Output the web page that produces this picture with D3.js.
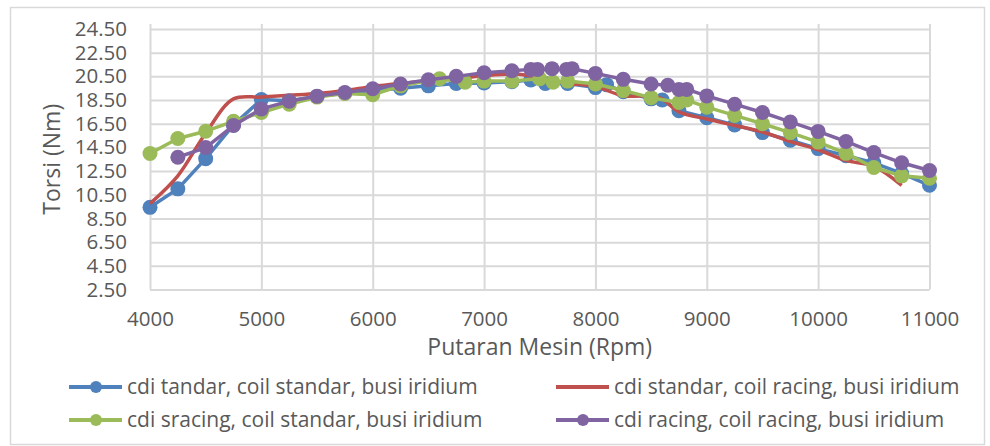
<!DOCTYPE html>
<html>
  <head>
    <meta charset="utf-8">
    <script src="https://cdn.jsdelivr.net/npm/d3@7"></script>
    <style>
      body { margin: 0; background: #fff; }
      text { font-family: "Open Sans", sans-serif; fill: #595959; }
      .grid line { stroke: #d9d9d9; stroke-width: 2; }
      .grid path { display: none; }
    </style>
  </head>
<body>
  <script type="text/javascript">
      // data
      var xTicks = [4000, 5000, 6000, 7000, 8000, 9000, 10000, 11000];
      var yTicks = [2.5, 4.5, 6.5, 8.5, 10.5, 12.5, 14.5, 16.5, 18.5, 20.5, 22.5, 24.5];

      var blueRpm = [4000,4250,4500,4750,5000,5250,5500,5750,6000,6250,6500,6750,7000,7250,7420,7550,7750,8000,8100,8250,8500,8600,8750,9000,9250,9500,9750,10000,10250,10500,10750,11000];
      var blueTq  = [9.44,11.0,13.55,16.4,18.55,18.45,18.8,19.1,19.3,19.5,19.7,19.9,19.95,20.05,20.2,19.9,19.9,19.55,19.8,19.2,18.6,18.5,17.6,17.0,16.4,15.75,15.1,14.4,13.8,13.2,12.3,11.3];

      var redRpm = [4000,4250,4500,4750,5000,5250,5500,5750,6000,6250,6500,6750,7000,7250,7380,7620,7750,8000,8250,8500,8600,8750,9000,9250,9500,9750,10000,10250,10500,10750];
      var redTq  = [9.75,12.1,15.7,18.6,18.75,18.9,19.05,19.3,19.65,19.9,20.1,20.3,20.55,20.7,20.6,20.1,19.9,19.65,18.85,18.85,18.6,17.5,16.9,16.35,15.8,15.0,14.3,13.4,12.9,11.3];

      var greenRpm = [4000,4250,4500,4750,5000,5250,5500,5750,6000,6250,6600,6830,7000,7250,7500,7620,7750,8000,8250,8500,8750,8820,9000,9250,9500,9750,10000,10250,10500,10750,11000];
      var greenTq  = [13.98,15.25,15.87,16.7,17.45,18.15,18.75,19.05,18.95,19.7,20.3,20.0,20.1,20.1,20.3,20.0,20.1,19.85,19.3,18.7,18.3,18.5,17.9,17.2,16.5,15.75,14.95,14.0,12.8,12.1,11.9];

      var purpleRpm = [4250,4500,4750,5000,5250,5500,5750,6000,6250,6500,6750,7000,7250,7420,7480,7610,7740,7790,8000,8250,8500,8650,8750,8820,9000,9250,9500,9750,10000,10250,10500,10750,11000];
      var purpleTq  = [13.67,14.49,16.35,17.75,18.4,18.83,19.14,19.45,19.85,20.22,20.5,20.8,20.97,21.09,21.09,21.15,21.09,21.15,20.75,20.25,19.85,19.75,19.4,19.4,18.85,18.15,17.45,16.65,15.85,15.0,14.06,13.2,12.55];

      var seriesNames = ["cdi tandar, coil standar, busi iridium",
                         "cdi standar, coil racing, busi iridium",
                         "cdi sracing, coil standar, busi iridium",
                         "cdi racing, coil racing, busi iridium"];

      var series = [
        {name: seriesNames[0], rpm: blueRpm, tq: blueTq, color: "#4f81bd", marker: true, smooth: false},
        {name: seriesNames[1], rpm: redRpm, tq: redTq, color: "#c0504d", marker: false, smooth: true},
        {name: seriesNames[2], rpm: greenRpm, tq: greenTq, color: "#9bbb59", marker: true, smooth: false},
        {name: seriesNames[3], rpm: purpleRpm, tq: purpleTq, color: "#8064a2", marker: true, smooth: false}
      ];

      var width = 990, height = 446;
      var plotLeft = 150, plotRight = 929.5, plotTop = 29, plotBottom = 289.5;

      var svg = d3.select("body").append("svg")
          .attr("width", width)
          .attr("height", height);

      // chart border
      svg.append("rect")
          .attr("x", 10.5).attr("y", 7.5)
          .attr("width", 974).attr("height", 437)
          .attr("fill", "none")
          .attr("stroke", "#d9d9d9")
          .attr("stroke-width", 1.5);

      var x = d3.scaleLinear().domain([4000, 11000]).range([plotLeft, plotRight]);
      var y = d3.scaleLinear().domain([2.5, 24.5]).range([plotBottom, plotTop]);

      // horizontal grid + y labels
      svg.append("g")
          .attr("class", "grid")
          .attr("transform", "translate(" + plotLeft + ",0)")
          .call(d3.axisLeft(y).tickValues(yTicks).tickSize(-(plotRight - plotLeft))
                .tickPadding(23).tickFormat(d3.format(".2f")))
          .selectAll("text").style("font-size", "20.5px").attr("fill", "#595959");

      // vertical grid + x labels
      svg.append("g")
          .attr("class", "grid")
          .attr("transform", "translate(0," + plotBottom + ")")
          .call(d3.axisBottom(x).tickValues(xTicks).tickSize(-(plotBottom - 24))
                .tickPadding(22).tickFormat(d3.format("d")))
          .selectAll("text").style("font-size", "20.5px").attr("fill", "#595959");

      // axis titles
      svg.append("text")
          .attr("transform", "translate(60," + ((plotTop + plotBottom) / 2) + ") rotate(-90)")
          .attr("text-anchor", "middle")
          .style("font-size", "23px")
          .text("Torsi (Nm)");

      svg.append("text")
          .attr("x", (plotLeft + plotRight) / 2)
          .attr("y", 355)
          .attr("text-anchor", "middle")
          .style("font-size", "23px")
          .text("Putaran Mesin (Rpm)");

      // series
      series.forEach(function(s) {
        var pts = s.rpm.map(function(r, i) { return [r, s.tq[i]]; });
        var line = d3.line()
            .x(function(d) { return x(d[0]); })
            .y(function(d) { return y(d[1]); })
            .curve(s.smooth ? d3.curveCatmullRom : d3.curveLinear);
        svg.append("path")
            .datum(pts)
            .attr("fill", "none")
            .attr("stroke", s.color)
            .attr("stroke-width", 3.5)
            .attr("stroke-linejoin", "round")
            .attr("d", line);
        if (s.marker) {
          svg.append("g").selectAll("circle")
              .data(pts).enter().append("circle")
              .attr("cx", function(d) { return x(d[0]); })
              .attr("cy", function(d) { return y(d[1]); })
              .attr("r", 7.5)
              .attr("fill", s.color);
        }
      });

      // legend
      var legPos = [[69, 387], [556, 387], [69, 420], [556, 420]];
      series.forEach(function(s, i) {
        var g = svg.append("g").attr("transform", "translate(" + legPos[i][0] + "," + legPos[i][1] + ")");
        g.append("line").attr("x1", 0).attr("x2", 53).attr("y1", 0).attr("y2", 0)
            .attr("stroke", s.color).attr("stroke-width", 4);
        if (s.marker) {
          g.append("circle").attr("cx", 27).attr("cy", 0).attr("r", 6).attr("fill", s.color);
        }
        g.append("text").attr("x", 58).attr("dy", "0.35em")
            .style("font-size", "21px")
            .text(s.name);
      });
  </script>
</body>
</html>
